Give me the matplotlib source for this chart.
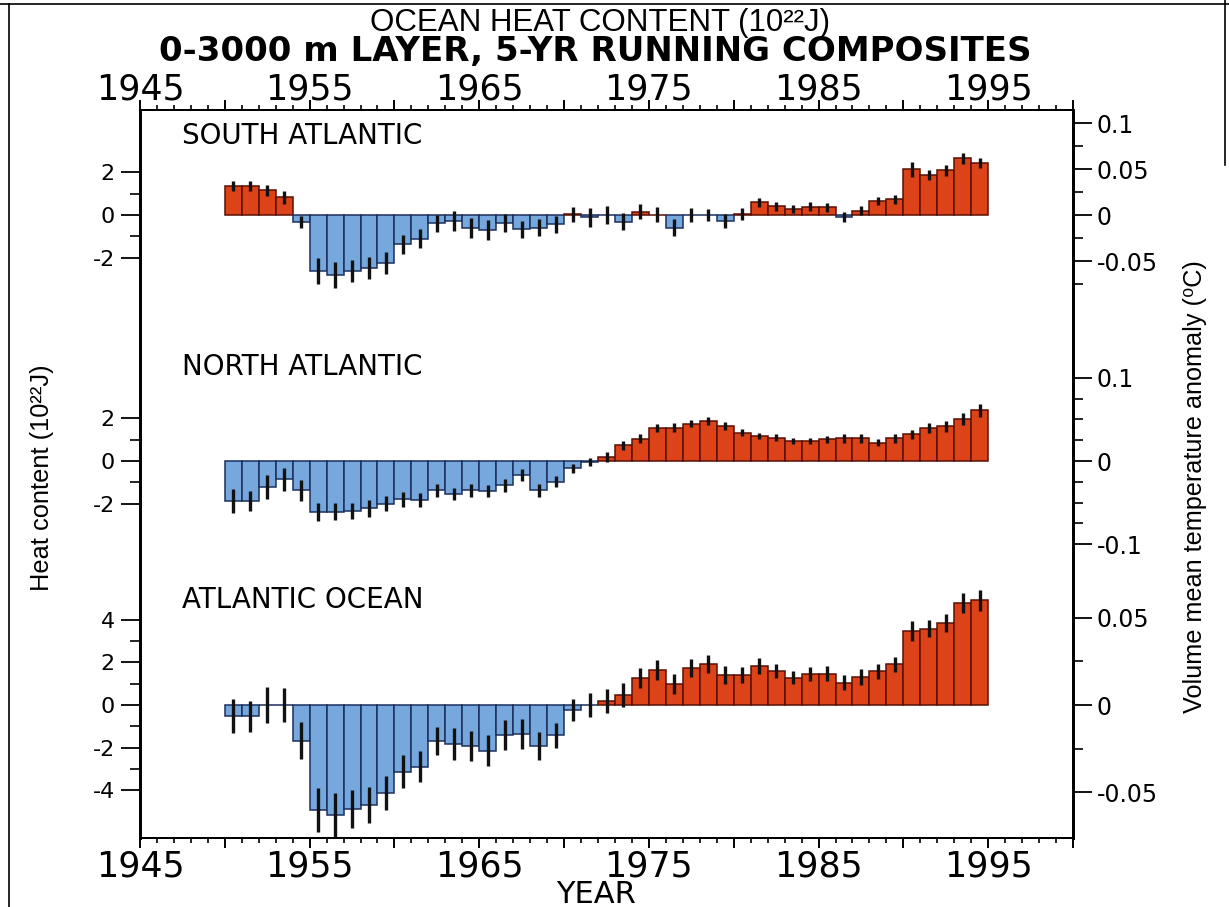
import numpy as np
import matplotlib
matplotlib.use("Agg")
import matplotlib.pyplot as plt
from matplotlib.ticker import FixedLocator, NullFormatter

# 5-yr running composites, one bar per year, heat content in 10^22 J
years = np.arange(1950, 1995)

south_atlantic = [
    1.36, 1.36, 1.16, 0.84, -0.33, -2.63, -2.83, -2.63, -2.47, -2.27,
    -1.38, -1.11, -0.39, -0.28, -0.63, -0.72, -0.36, -0.67, -0.59, -0.44,
    0.03, -0.10, 0.00, -0.31, 0.16, 0.02, -0.59, 0.00, 0.00, -0.28,
    0.05, 0.60, 0.41, 0.28, 0.39, 0.36, -0.10, 0.20, 0.66, 0.74,
    2.15, 1.88, 2.10, 2.66, 2.46,
]
south_atlantic_err = [
    0.22, 0.23, 0.25, 0.30, 0.30, 0.62, 0.62, 0.53, 0.52, 0.52,
    0.45, 0.43, 0.41, 0.47, 0.47, 0.47, 0.43, 0.41, 0.39, 0.39,
    0.35, 0.44, 0.43, 0.39, 0.35, 0.37, 0.39, 0.31, 0.30, 0.35,
    0.27, 0.21, 0.20, 0.20, 0.20, 0.20, 0.22, 0.22, 0.20, 0.21,
    0.35, 0.23, 0.27, 0.27, 0.23,
]

north_atlantic = [
    -1.88, -1.88, -1.22, -0.86, -1.38, -2.38, -2.38, -2.34, -2.22, -2.00,
    -1.80, -1.84, -1.38, -1.56, -1.38, -1.41, -1.14, -0.67, -1.38, -0.97,
    -0.34, -0.05, 0.20, 0.73, 1.05, 1.56, 1.56, 1.75, 1.88, 1.64,
    1.33, 1.17, 1.09, 0.94, 0.94, 1.02, 1.06, 1.06, 0.86, 1.06,
    1.25, 1.56, 1.64, 1.98, 2.39,
]
north_atlantic_err = [
    0.57, 0.48, 0.58, 0.53, 0.50, 0.43, 0.41, 0.39, 0.39, 0.34,
    0.35, 0.34, 0.29, 0.28, 0.29, 0.30, 0.30, 0.29, 0.30, 0.25,
    0.20, 0.17, 0.23, 0.20, 0.20, 0.18, 0.22, 0.16, 0.17, 0.17,
    0.17, 0.16, 0.17, 0.13, 0.16, 0.16, 0.20, 0.20, 0.17, 0.20,
    0.20, 0.23, 0.26, 0.28, 0.31,
]

atlantic_ocean = [
    -0.52, -0.52, 0.00, 0.00, -1.67, -4.92, -5.16, -4.89, -4.69, -4.11,
    -3.13, -2.89, -1.69, -1.83, -1.92, -2.14, -1.41, -1.36, -1.92, -1.41,
    -0.23, 0.00, 0.19, 0.47, 1.25, 1.64, 0.97, 1.75, 1.92, 1.41,
    1.41, 1.83, 1.59, 1.28, 1.44, 1.48, 1.06, 1.33, 1.59, 1.91,
    3.48, 3.59, 3.86, 4.77, 4.92,
]
atlantic_ocean_err = [
    0.80, 0.73, 0.84, 0.80, 0.88, 1.05, 1.02, 0.88, 0.84, 0.80,
    0.78, 0.73, 0.66, 0.74, 0.70, 0.74, 0.72, 0.70, 0.64, 0.59,
    0.50, 0.55, 0.55, 0.55, 0.47, 0.47, 0.47, 0.43, 0.43, 0.43,
    0.39, 0.37, 0.33, 0.31, 0.33, 0.35, 0.37, 0.37, 0.35, 0.35,
    0.45, 0.39, 0.43, 0.47, 0.50,
]

# name, values, errors, baseline, label height above baseline,
# left ticks (labelled / minor), right ticks in degC (labelled / minor), units per degC
panels = [
    ("SOUTH ATLANTIC", south_atlantic, south_atlantic_err, 29.25, 3.71,
     [-2, 0, 2], [-1, 1],
     [-0.05, 0, 0.05, 0.1], [-0.075, -0.025, 0.025, 0.075], 43.2),
    ("NORTH ATLANTIC", north_atlantic, north_atlantic_err, 17.70, 4.41,
     [-2, 0, 2], [-1, 1],
     [-0.1, 0, 0.1], [-0.075, -0.05, -0.025, 0.025, 0.05, 0.075], 39.0),
    ("ATLANTIC OCEAN", atlantic_ocean, atlantic_ocean_err, 6.24, 4.93,
     [-4, -2, 0, 2, 4], [-3, -1, 1, 3],
     [-0.05, 0, 0.05], [-0.025, 0.025], 82.0),
]

RED = "#dc4318"
BLUE = "#76a8de"
ARIAL = ["Liberation Sans", "DejaVu Sans"]
WIDE = ["DejaVu Sans"]

fig = plt.figure(figsize=(12.29, 9.07), dpi=100)
ax = fig.add_axes([0.1139, 0.0761, 0.7592, 0.8026])
ax2 = ax.twinx()

left_major, left_minor, left_labels = [], [], []
right_major, right_minor, right_labels = [], [], []

for name, vals, errs, base, lab_y, lmaj, lmin, rmaj, rmin, k in panels:
    vals = np.asarray(vals)
    colors = [RED if v > 0 else BLUE for v in vals]
    edges = ["#5a1005" if v > 0 else "#1b2f5c" for v in vals]
    ax.bar(years, vals, width=1.0, align="edge", bottom=base,
           color=colors, edgecolor=edges, linewidth=1.1, zorder=2)
    ax.errorbar(years + 0.5, base + vals, yerr=errs, fmt="none",
                ecolor="#111111", elinewidth=2.4, capsize=0, zorder=3)
    ax.text(1947.5, base + lab_y, name, fontsize=20, family=WIDE,
            va="center", ha="left")

    left_major += [base + t for t in lmaj]
    left_labels += [str(t) for t in lmaj]
    left_minor += [base + t for t in lmin]

    right_major += [base + t * k for t in rmaj]
    right_labels += [("0" if t == 0 else f"{t:g}") for t in rmaj]
    right_minor += [base + t * k for t in rmin]

ax.set_xlim(1945, 2000)
ax.set_ylim(0, 34.18)
ax2.set_ylim(0, 34.18)

# year axis, bottom
year_major = np.arange(1945, 2001, 5)
year_labels = [str(y) if (y - 1945) % 10 == 0 else "" for y in year_major]
ax.xaxis.set_major_locator(FixedLocator(year_major))
ax.xaxis.set_minor_locator(FixedLocator(np.arange(1945, 2001, 1)))
ax.set_xticklabels(year_labels)
ax.tick_params(axis="x", which="both", direction="out", top=True, labelsize=25, pad=1.5)
ax.tick_params(axis="x", which="major", length=7, width=1.4)
ax.tick_params(axis="x", which="minor", length=3.6, width=1.2)
for lab in ax.get_xticklabels():
    lab.set_family(WIDE)

# year axis, top (labels only, ticks come from ax)
top = ax.secondary_xaxis("top")
top.xaxis.set_major_locator(FixedLocator(year_major))
top.set_xticklabels(year_labels)
top.tick_params(axis="x", which="both", length=0, labelsize=25, pad=7.3)
top.spines["top"].set_visible(False)
for lab in top.get_xticklabels():
    lab.set_family(WIDE)
    lab.set_va("baseline")

ax.yaxis.set_major_locator(FixedLocator(left_major))
ax.yaxis.set_minor_locator(FixedLocator(left_minor))
ax.set_yticklabels(left_labels)
ax.yaxis.set_minor_formatter(NullFormatter())
ax.tick_params(axis="y", which="major", direction="out", length=14, width=1.3,
               labelsize=16, pad=4)
ax.tick_params(axis="y", which="minor", direction="out", length=7, width=1.2)
for lab in ax.get_yticklabels():
    lab.set_family(WIDE)

ax2.yaxis.set_major_locator(FixedLocator(right_major))
ax2.yaxis.set_minor_locator(FixedLocator(right_minor))
ax2.set_yticklabels(right_labels)
ax2.yaxis.set_minor_formatter(NullFormatter())
ax2.tick_params(axis="y", which="major", direction="out", length=14, width=1.3,
                labelsize=17, pad=3)
ax2.tick_params(axis="y", which="minor", direction="out", length=7, width=1.2)
for lab in ax2.get_yticklabels():
    lab.set_family(WIDE)

for a in (ax, ax2):
    for side in ("left", "right"):
        a.spines[side].set_linewidth(2.0)
    for side in ("top", "bottom"):
        a.spines[side].set_linewidth(1.4)

fig.text(0.485, 0.0045, "YEAR", ha="center", va="baseline", fontsize=22, family=WIDE)
fig.text(0.034, 0.473, "Heat content (10\u00b2\u00b2J)", rotation=90, ha="center",
         va="center", fontsize=18.3, family=ARIAL)
fig.text(0.972, 0.463, "Volume mean temperature anomaly (\u2070C)", rotation=90,
         ha="center", va="center", fontsize=18.2, family=ARIAL)

fig.text(0.488, 0.975, "OCEAN HEAT CONTENT (10\u00b2\u00b2J)", ha="center", va="center",
         fontsize=22.5, family=ARIAL)
fig.text(0.484, 0.943, "0-3000 m LAYER, 5-YR RUNNING COMPOSITES", ha="center",
         va="center", fontsize=24.5, family=WIDE, fontweight="bold")

# page border
for xs, ys in (([0.007, 0.007], [0.0, 0.996]),
               ([0.0, 1.0], [0.996, 0.996]),
               ([0.997, 0.997], [0.818, 1.0])):
    fig.add_artist(plt.Line2D(xs, ys, color="black", lw=1.2, transform=fig.transFigure))

fig.savefig("out.png", dpi=100)
